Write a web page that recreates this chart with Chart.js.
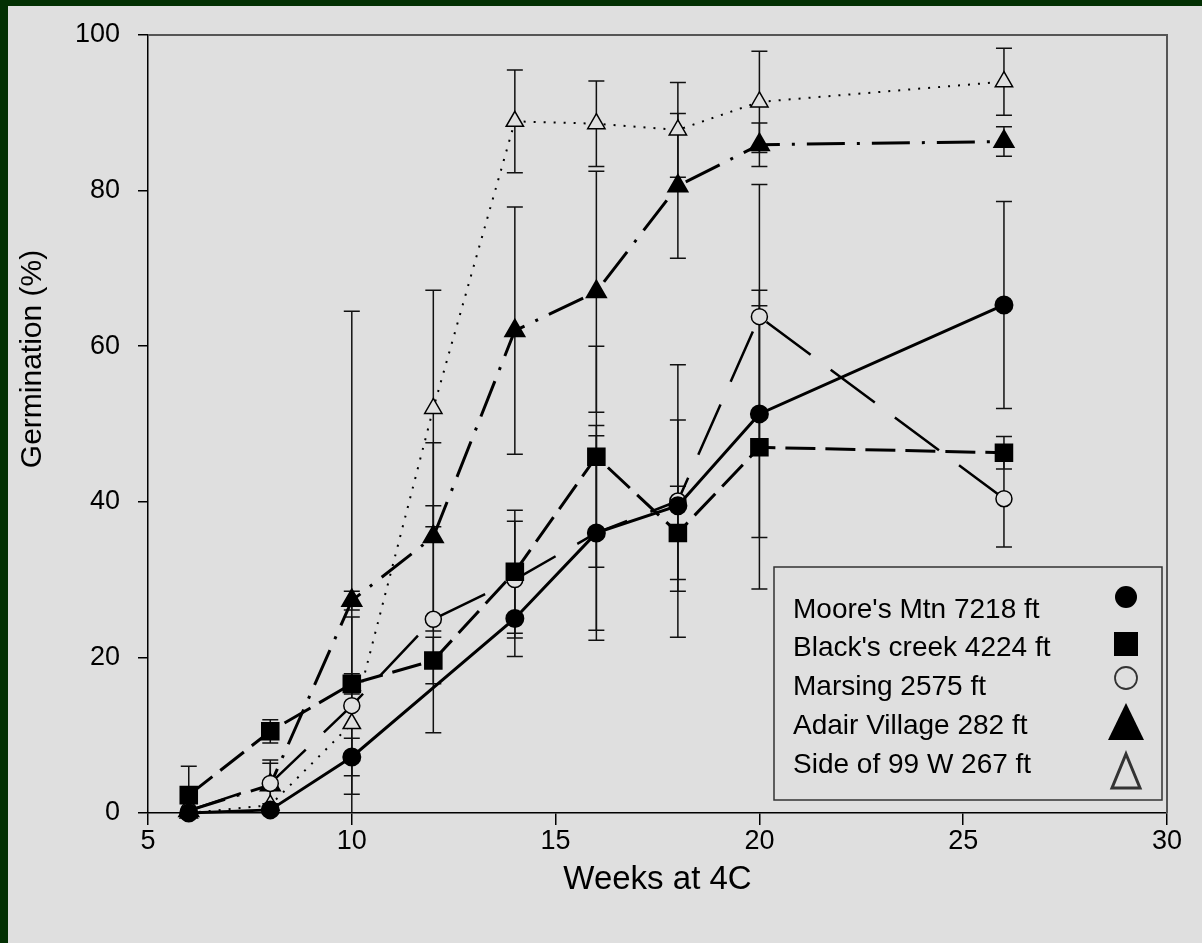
<!DOCTYPE html>
<html><head><meta charset="utf-8">
<script src="https://cdn.jsdelivr.net/npm/chart.js@4.4.0/dist/chart.umd.min.js"></script>
<style>
html,body{margin:0;padding:0;background:#033003;width:1202px;height:943px;overflow:hidden}
#wrap{position:absolute;left:8px;top:6px;width:1194px;height:937px;background:#dfdfdf}
canvas{display:block}
</style></head><body>
<div id="wrap"><canvas id="c" width="1194" height="937"></canvas></div>
<script>
const weeks = [6, 8, 10, 12, 14, 16, 18, 20, 26];
const xTickValues = [5, 10, 15, 20, 25, 30];
const yTickValues = [0, 20, 40, 60, 80, 100];
const seriesNames = ["Moore's Mtn 7218 ft", "Black's creek 4224 ft", "Marsing 2575 ft", "Adair Village 282 ft", "Side of 99 W 267 ft"];
const xTitle = 'Weeks at 4C';
const yTitle = 'Germination (%)';

const moore      = [0, 0.4, 7.2, null, 25, 36, 39.5, 51.3, 65.3];
const mooreErr   = [0, 0, 2.4, null, 4.9, 12.5, 11, 15.9, 13.3];
const blacks     = [2.3, 10.5, 16.6, 19.6, 31, 45.8, 36, 47, 46.3];
const blacksErr  = [3.7, 1.5, 1.3, 3, 7.9, 14.2, 6, 18.2, 2.1];
const marsing    = [0.3, 3.8, 13.8, 24.9, 30, 36, 40.1, 63.8, 40.4];
const marsingErr = [0, 2.6, 11.4, 14.6, 7.5, 13.8, 17.5, 17, 6.2];
const adair      = [0.3, 3.6, 27.3, 35.5, 62, 67, 80.6, 85.9, 86.3];
const adairErr   = [0, 3.2, 1.2, 12.1, 15.9, 15.5, 9.3, 2.8, 1.9];
const side99     = [0, 1.0, 11.5, 52, 88.9, 88.6, 87.8, 91.4, 94];
const side99Err  = [0, 0, 53, 15.2, 6.6, 5.5, 6.1, 6.5, 4.3];

const FONT = "'Liberation Sans', Arial, sans-serif";
const BG = '#dfdfdf';

function pts(vals){ return weeks.map((w,i)=>({x:w, y:vals[i]})); }

const datasets = [
  {label: seriesNames[0], data: pts(moore), errs: mooreErr, borderColor:'#000', borderWidth:3, borderDash:[],
   pointStyle:'circle', pointRadius:8, pointBackgroundColor:'#000', pointBorderColor:'#000', legendShape:'fcircle'},
  {label: seriesNames[1], data: pts(blacks), errs: blacksErr, borderColor:'#000', borderWidth:3, borderDash:[30,10],
   pointStyle:'rect', pointRadius:11, pointBackgroundColor:'#000', pointBorderColor:'#000', legendShape:'fsquare'},
  {label: seriesNames[2], data: pts(marsing), errs: marsingErr, borderColor:'#000', borderWidth:2.5, borderDash:[55,25],
   pointStyle:'circle', pointRadius:8, pointBackgroundColor:BG, pointBorderColor:'#000', pointBorderWidth:1.5, legendShape:'ocircle'},
  {label: seriesNames[3], data: pts(adair), errs: adairErr, borderColor:'#000', borderWidth:3, borderDash:[38,12,3,12],
   pointStyle:'triangle', pointRadius:10, pointBackgroundColor:'#000', pointBorderColor:'#000', legendShape:'ftri'},
  {label: seriesNames[4], data: pts(side99), errs: side99Err, borderColor:'#000', borderWidth:2, borderDash:[2,8],
   pointStyle:'triangle', pointRadius:10, pointBackgroundColor:BG, pointBorderColor:'#000', pointBorderWidth:1.5, legendShape:'otri'}
];
datasets.forEach(d=>{ d.fill=false; d.tension=0; d.spanGaps=true; d.clip=false; d.pointHoverRadius=d.pointRadius; });

const errPlugin = {
  id:'errbars',
  beforeDatasetsDraw(chart){
    const ctx = chart.ctx, xs = chart.scales.x, ys = chart.scales.y, a = chart.chartArea;
    ctx.save();
    ctx.beginPath(); ctx.rect(a.left-20, a.top-2, a.right-a.left+40, a.bottom-a.top+2); ctx.clip();
    ctx.strokeStyle = '#111'; ctx.lineWidth = 1.5;
    chart.data.datasets.forEach(ds=>{
      ds.data.forEach((p,i)=>{
        const e = ds.errs[i];
        if (p.y == null || !e) return;
        const x = xs.getPixelForValue(p.x);
        const yt = ys.getPixelForValue(p.y + e), yb = ys.getPixelForValue(p.y - e);
        ctx.beginPath();
        ctx.moveTo(x, yt); ctx.lineTo(x, yb);
        ctx.moveTo(x-8, yt); ctx.lineTo(x+8, yt);
        ctx.moveTo(x-8, yb); ctx.lineTo(x+8, yb);
        ctx.stroke();
      });
    });
    ctx.restore();
  }
};

const framePlugin = {
  id:'frame',
  beforeDatasetsDraw(chart){
    const ctx = chart.ctx, a = chart.chartArea;
    ctx.save();
    ctx.strokeStyle = '#555'; ctx.lineWidth = 2;
    ctx.beginPath();
    ctx.moveTo(a.left, a.top); ctx.lineTo(a.right, a.top); ctx.lineTo(a.right, a.bottom);
    ctx.stroke();
    ctx.restore();
  }
};

const yTitlePlugin = {
  id:'yTitle',
  afterDraw(chart){
    const ctx = chart.ctx;
    ctx.save();
    ctx.translate(25, 353);
    ctx.rotate(-Math.PI/2);
    ctx.fillStyle = '#000';
    ctx.font = "30px " + FONT;
    ctx.textAlign = 'center'; ctx.textBaseline = 'middle';
    ctx.fillText(yTitle, 0, 0);
    ctx.restore();
  }
};

const legendPlugin = {
  id:'customLegend',
  afterDraw(chart){
    const ctx = chart.ctx;
    const bx = 766, by = 561, bw = 388, bh = 233;
    ctx.save();
    ctx.fillStyle = BG; ctx.fillRect(bx, by, bw, bh);
    ctx.strokeStyle = '#333'; ctx.lineWidth = 1.5;
    ctx.strokeRect(bx, by, bw, bh);
    ctx.fillStyle = '#000';
    ctx.font = "28px " + FONT;
    ctx.textBaseline = 'alphabetic'; ctx.textAlign = 'left';
    const baselines = [612, 650, 689, 728, 767];
    const mk = [591, 638, 672, 716, 765];
    const mx = 1118;
    chart.data.datasets.forEach((ds,i)=>{
      ctx.fillStyle = '#000';
      ctx.fillText(ds.label, 785, baselines[i]);
      const y = mk[i];
      ctx.beginPath();
      switch (ds.legendShape) {
        case 'fcircle': ctx.arc(mx, y, 11, 0, Math.PI*2); ctx.fill(); break;
        case 'fsquare': ctx.fillRect(mx-12, y-12, 24, 24); break;
        case 'ocircle': ctx.lineWidth = 1.8; ctx.arc(mx, y, 11, 0, Math.PI*2); ctx.stroke(); break;
        case 'ftri': ctx.moveTo(mx, y-19); ctx.lineTo(mx+18, y+18); ctx.lineTo(mx-18, y+18); ctx.closePath(); ctx.fill(); break;
        case 'otri': ctx.lineWidth = 3; ctx.moveTo(mx, y-17); ctx.lineTo(mx+14, y+17); ctx.lineTo(mx-14, y+17); ctx.closePath(); ctx.stroke(); break;
      }
    });
    ctx.restore();
  }
};

new Chart(document.getElementById('c'), {
  type:'line',
  data:{datasets},
  plugins:[framePlugin, errPlugin, legendPlugin, yTitlePlugin],
  options:{
    responsive:false, devicePixelRatio:1, animation:false,
    layout:{padding:{top:29, right:35, left:0, bottom:0}},
    plugins:{legend:{display:false}, tooltip:{enabled:false}},
    scales:{
      x:{type:'linear', min:5, max:30,
        afterBuildTicks(s){ s.ticks = xTickValues.map(v=>({value:v})); },
        afterFit(s){ s.height = 130; s.paddingLeft = 0; s.paddingRight = 0; },
        ticks:{color:'#000', font:{family:FONT, size:27}, padding:0, maxRotation:0, autoSkip:false},
        grid:{drawOnChartArea:false, drawTicks:true, tickLength:12, color:'#000', lineWidth:1.5},
        border:{color:'#000', width:1.5},
        title:{display:true, text:xTitle, color:'#000', font:{family:FONT, size:33}, padding:{top:0, bottom:43}}
      },
      y:{type:'linear', min:0, max:100,
        afterBuildTicks(s){ s.ticks = yTickValues.map(v=>({value:v})); },
        afterFit(s){ s.width = 140; s.paddingTop = 0; s.paddingBottom = 0; },
        ticks:{color:'#000', font:{family:FONT, size:27}, padding:18},
        grid:{drawOnChartArea:false, drawTicks:true, tickLength:10, color:'#000', lineWidth:1.5},
        border:{color:'#000', width:1.5},
        title:{display:false}
      }
    }
  }
});
</script>
</body></html>
